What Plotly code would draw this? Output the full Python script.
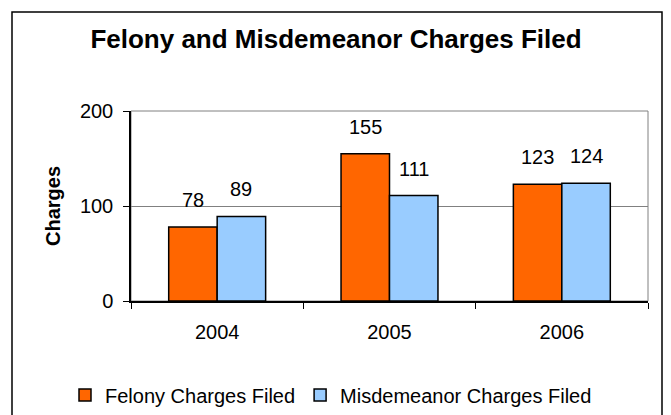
import plotly.graph_objects as go

years = ["2004", "2005", "2006"]
felony = [78, 155, 123]
misdemeanor = [89, 111, 124]
series_names = ["Felony Charges Filed", "Misdemeanor Charges Filed"]
colors = ["#FF6600", "#99CCFF"]
y_ticks = [0, 100, 200]

FONT = "Liberation Sans, Arial, sans-serif"

# the page body has an 8px default margin; work in screen pixels and shift
OFF = 8
SW, SH = 671, 415
W, H = SW - OFF, SH - OFF
PL, PR, PT, PB = 131, 648, 111, 301  # plot area in screen pixels
L, T = PL - OFF, PT - OFF
pw, ph = PR - PL, PB - PT
R = W - L - pw
B = H - T - ph


def px_x(x):
    return (x - PL) / pw


def px_y(y):
    return (PB - y) / ph


fig = go.Figure()
for name, vals, col in zip(series_names, [felony, misdemeanor], colors):
    fig.add_trace(go.Bar(
        x=years, y=vals, name=name,
        marker=dict(color=col, line=dict(color="black", width=1.5)),
    ))

bargap = 0.4375
bw = (1 - bargap) / 2
annotations = []
for k, vals in enumerate([felony, misdemeanor]):
    off = -bw / 2 if k == 0 else bw / 2
    for i, v in enumerate(vals):
        annotations.append(dict(
            x=i + off, y=v, xref="x", yref="y", text=str(v),
            showarrow=False, yanchor="bottom", yshift=14,
            font=dict(family=FONT, size=20, color="black"),
        ))

shapes = [
    dict(type="rect", xref="paper", yref="paper", x0=0, x1=1, y0=0, y1=1,
         line=dict(color="#808080", width=1), layer="below"),
    dict(type="rect", xref="paper", yref="paper",
         x0=px_x(12), x1=px_x(662), y0=px_y(440), y1=px_y(12),
         line=dict(color="black", width=1.5)),
]

fig.update_layout(
    width=W, height=H,
    margin=dict(l=L, r=R, t=T, b=B, autoexpand=False),
    paper_bgcolor="white", plot_bgcolor="white",
    barmode="group", bargap=bargap, bargroupgap=0,
    title=dict(text="<b>Felony and Misdemeanor Charges Filed</b>",
               x=(336 - OFF) / W, xref="container", xanchor="center",
               y=1 - (39 - OFF) / H, yref="container", yanchor="middle",
               font=dict(family=FONT, size=26, color="black")),
    font=dict(family=FONT, size=20, color="black"),
    showlegend=True,
    legend=dict(orientation="h", x=px_x(65), xanchor="left",
                y=px_y(395), yanchor="middle",
                font=dict(family=FONT, size=20, color="black"),
                bgcolor="rgba(0,0,0,0)", traceorder="normal"),
    annotations=annotations,
    shapes=shapes,
)

fig.update_xaxes(
    type="category", tickson="boundaries", ticks="outside", ticklen=6,
    tickcolor="black", showline=True, linecolor="black", linewidth=1.5,
    showgrid=False, tickfont=dict(family=FONT, size=20, color="black"),
    ticklabelstandoff=12, zeroline=False,
)
fig.update_yaxes(
    range=[0, 200], tickvals=y_ticks, ticks="outside", ticklen=6,
    tickcolor="black", showline=True, linecolor="black", linewidth=1.5,
    showgrid=True, gridcolor="#808080", gridwidth=1, zeroline=False,
    tickfont=dict(family=FONT, size=20, color="black"),
    ticklabelstandoff=6,
    title=dict(text="<b>Charges</b>", standoff=14,
               font=dict(family=FONT, size=20, color="black")),
)

fig.write_html("out.html")
